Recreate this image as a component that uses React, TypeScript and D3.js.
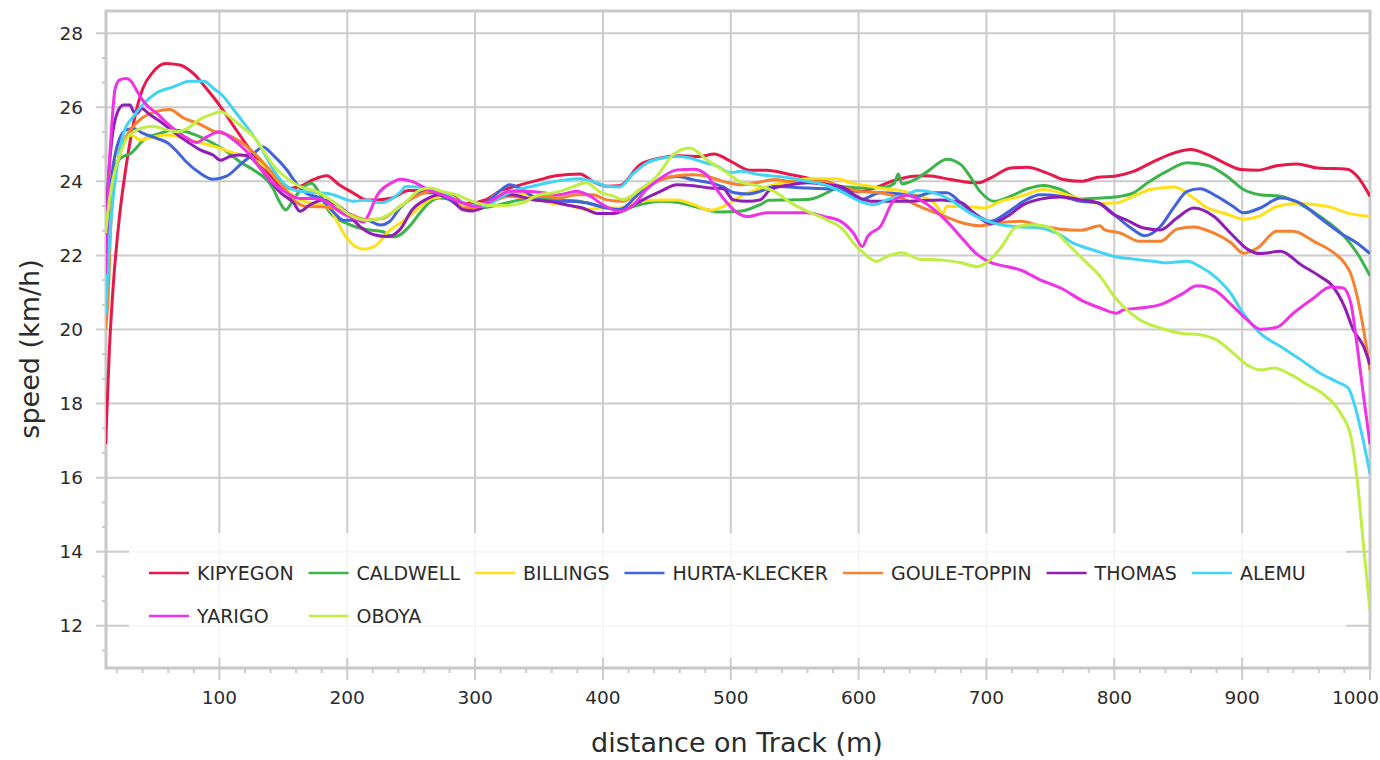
import React from "react";
import * as d3 from "d3";

type Pt = [number, number];

const RUNNERS = ["KIPYEGON", "CALDWELL", "BILLINGS", "HURTA-KLECKER", "GOULE-TOPPIN", "THOMAS", "ALEMU", "YARIGO", "OBOYA"];
const COLORS = ["#e6194b", "#3cb44b", "#ffe119", "#4363d8", "#f58231", "#911eb4", "#42d4f4", "#f032e6", "#bfef45"];

const KIPYEGON: Pt[] = [[11,16.9],[14,19.5],[17,21.2],[22,23.1],[27,24.4],[33,25.6],[40,26.5],[48,26.95],[58,27.18],[69,27.14],[80,26.9],[90,26.5],[100,26.06],[111,25.5],[121,25.0],[132,24.5],[142,24.08],[152,23.8],[163,23.86],[173,24.04],[184,24.15],[194,23.9],[205,23.68],[215,23.5],[223,23.5],[235,23.55],[248,23.75],[262,23.75],[280,23.65],[293,23.4],[308,23.5],[319,23.73],[332,23.87],[350,24.04],[363,24.15],[382,24.2],[392,24.0],[403,23.87],[413,23.88],[429,24.45],[445,24.63],[460,24.69],[476,24.67],[487,24.74],[500,24.54],[515,24.3],[528,24.3],[547,24.18],[560,24.09],[573,23.96],[586,23.82],[601,23.73],[612,23.82],[630,24.05],[643,24.14],[654,24.15],[672,24.05],[693,23.96],[703,24.09],[719,24.36],[732,24.38],[747,24.23],[760,24.05],[774,24.0],[787,24.11],[800,24.14],[815,24.27],[831,24.54],[847,24.77],[860,24.86],[873,24.72],[886,24.5],[899,24.32],[912,24.3],[927,24.42],[943,24.47],[959,24.36],[982,24.33],[990,24.14],[1000,23.6]];

const CALDWELL: Pt[] = [[11,22.0],[14,23.6],[17,24.3],[22,24.6],[27,24.7],[31,24.76],[35,24.9],[40,25.1],[54,25.3],[64,25.39],[74,25.34],[85,25.2],[95,25.03],[106,24.8],[116,24.53],[127,24.3],[137,24.04],[142,23.81],[147,23.45],[152,23.23],[156,23.4],[163,23.75],[172,23.95],[178,23.7],[186,23.18],[200,22.86],[215,22.7],[228,22.64],[236,22.5],[241,22.55],[249,22.8],[257,23.15],[264,23.42],[272,23.55],[282,23.5],[293,23.33],[303,23.28],[319,23.37],[335,23.5],[350,23.55],[366,23.5],[382,23.46],[397,23.33],[413,23.24],[429,23.37],[445,23.46],[460,23.42],[476,23.28],[492,23.17],[507,23.19],[523,23.37],[530,23.49],[547,23.5],[562,23.52],[575,23.69],[586,23.86],[601,23.82],[620,23.84],[628,23.95],[631,24.2],[634,23.93],[643,24.03],[654,24.27],[669,24.6],[680,24.45],[687,24.14],[695,23.73],[706,23.46],[719,23.6],[732,23.8],[745,23.89],[758,23.78],[774,23.52],[789,23.55],[805,23.6],[815,23.69],[826,23.96],[841,24.27],[857,24.5],[873,24.43],[888,24.14],[901,23.78],[914,23.64],[930,23.6],[946,23.37],[961,23.05],[980,22.51],[990,22.06],[1000,21.45]];

const BILLINGS: Pt[] = [[11,22.5],[14,23.8],[17,24.5],[22,24.9],[27,25.15],[31,25.25],[38,25.12],[48,25.2],[59,25.25],[69,25.2],[79,25.1],[95,24.95],[111,24.77],[127,24.59],[137,24.36],[150,23.86],[163,23.5],[184,23.32],[200,22.45],[206,22.25],[213,22.17],[221,22.24],[234,22.7],[241,22.86],[250,23.1],[259,23.37],[267,23.55],[280,23.6],[293,23.33],[306,23.37],[319,23.69],[332,23.69],[345,23.6],[358,23.42],[371,23.37],[387,23.24],[400,23.28],[413,23.28],[429,23.46],[445,23.5],[458,23.5],[471,23.37],[484,23.22],[497,23.37],[510,23.64],[521,23.78],[541,23.96],[562,24.07],[583,24.07],[594,23.96],[607,23.88],[620,23.8],[633,23.75],[648,23.6],[659,23.42],[666,23.15],[669,23.33],[685,23.32],[698,23.28],[711,23.46],[727,23.6],[745,23.78],[758,23.69],[774,23.52],[789,23.4],[802,23.42],[815,23.6],[828,23.78],[847,23.85],[860,23.6],[873,23.28],[888,23.12],[901,22.98],[914,23.07],[927,23.32],[943,23.4],[967,23.32],[982,23.15],[1000,23.05]];

const HURTA_KLECKER: Pt[] = [[11,22.0],[14,23.5],[17,24.44],[22,25.16],[27,25.39],[33,25.43],[40,25.3],[51,25.16],[59,25.05],[67,24.8],[74,24.53],[85,24.22],[95,24.06],[106,24.15],[116,24.44],[127,24.76],[134,24.93],[142,24.71],[153,24.3],[160,23.95],[168,23.68],[179,23.54],[189,23.18],[197,22.95],[205,22.95],[215,22.95],[226,22.82],[233,22.91],[241,23.27],[250,23.55],[258,23.69],[266,23.69],[280,23.5],[293,23.24],[308,23.42],[319,23.73],[327,23.91],[335,23.82],[345,23.6],[358,23.46],[371,23.46],[387,23.42],[403,23.28],[413,23.24],[429,23.69],[445,24.04],[458,24.13],[471,24.04],[484,23.96],[494,23.85],[502,23.7],[513,23.66],[523,23.73],[534,23.86],[560,23.82],[586,23.78],[601,23.5],[617,23.69],[633,23.66],[646,23.6],[656,23.69],[669,23.69],[680,23.42],[690,23.15],[703,22.92],[716,23.15],[729,23.46],[742,23.64],[758,23.6],[774,23.46],[787,23.42],[800,23.1],[813,22.74],[824,22.53],[836,22.78],[847,23.32],[857,23.73],[867,23.8],[880,23.6],[893,23.32],[901,23.15],[914,23.28],[930,23.55],[946,23.4],[961,23.01],[977,22.6],[990,22.33],[1000,22.05]];

const GOULE_TOPPIN: Pt[] = [[11,20.0],[13,20.9],[15,22.8],[17,23.8],[22,24.7],[27,25.2],[33,25.5],[38,25.67],[51,25.89],[61,25.94],[72,25.71],[85,25.54],[95,25.36],[106,25.26],[116,25.08],[127,24.77],[137,24.4],[148,23.96],[158,23.5],[168,23.32],[184,23.31],[200,23.15],[215,22.96],[228,23.0],[241,23.32],[254,23.6],[267,23.73],[280,23.6],[290,23.28],[301,23.28],[314,23.46],[327,23.6],[340,23.55],[353,23.6],[366,23.55],[379,23.64],[392,23.64],[403,23.5],[416,23.46],[429,23.78],[445,24.04],[458,24.15],[471,24.18],[481,24.14],[494,24.0],[507,23.91],[521,23.97],[534,24.05],[547,24.0],[573,24.0],[586,23.86],[601,23.73],[617,23.69],[633,23.55],[648,23.32],[664,23.1],[680,22.89],[695,22.8],[711,22.89],[727,22.92],[742,22.8],[758,22.71],[774,22.68],[789,22.8],[792,22.7],[805,22.6],[820,22.38],[836,22.38],[849,22.71],[862,22.77],[878,22.6],[891,22.35],[901,22.06],[912,22.2],[927,22.65],[940,22.65],[956,22.38],[972,22.06],[980,21.8],[985,21.5],[990,20.89],[995,19.99],[1000,18.9]];

const THOMAS: Pt[] = [[11,22.5],[13,24.0],[16,25.16],[20,25.84],[25,26.06],[30,26.06],[33,25.88],[36,25.84],[39,25.97],[46,25.79],[54,25.61],[64,25.34],[75,25.07],[85,24.85],[95,24.71],[101,24.57],[108,24.67],[116,24.71],[122,24.7],[130,24.45],[137,24.14],[148,23.69],[158,23.42],[163,23.19],[171,23.37],[181,23.5],[189,23.42],[200,23.15],[210,22.78],[221,22.56],[232,22.51],[241,22.69],[251,23.24],[261,23.5],[272,23.64],[282,23.5],[290,23.24],[298,23.2],[308,23.33],[319,23.6],[329,23.64],[345,23.5],[358,23.46],[371,23.37],[384,23.28],[397,23.13],[408,23.13],[418,23.24],[429,23.46],[445,23.73],[458,23.91],[471,23.88],[484,23.82],[494,23.8],[502,23.5],[513,23.46],[523,23.5],[531,23.78],[547,23.91],[560,23.96],[575,23.91],[586,23.86],[601,23.55],[612,23.46],[638,23.46],[648,23.48],[664,23.5],[680,23.43],[690,23.15],[703,22.86],[716,23.05],[729,23.37],[742,23.52],[758,23.58],[774,23.5],[787,23.42],[800,23.1],[810,22.95],[823,22.74],[836,22.69],[849,23.01],[862,23.28],[878,23.05],[891,22.6],[904,22.17],[914,22.05],[930,22.11],[946,21.75],[961,21.43],[970,21.2],[980,20.62],[987,19.99],[995,19.54],[1000,19.05]];

const ALEMU: Pt[] = [[11,20.4],[14.5,22.6],[17,23.6],[20,24.4],[25,25.3],[33,25.76],[40,26.07],[51,26.39],[64,26.55],[77,26.7],[88,26.7],[95,26.52],[103,26.3],[111,25.94],[121,25.49],[132,24.95],[142,24.32],[153,23.86],[163,23.73],[176,23.7],[189,23.64],[200,23.5],[205,23.46],[215,23.5],[226,23.42],[241,23.69],[246,23.86],[256,23.85],[272,23.73],[285,23.5],[295,23.37],[308,23.33],[319,23.55],[329,23.73],[345,23.87],[358,23.97],[371,24.04],[382,24.07],[392,24.0],[403,23.87],[413,23.85],[424,24.22],[434,24.49],[447,24.63],[458,24.67],[468,24.63],[481,24.49],[487,24.45],[500,24.23],[507,24.27],[523,24.18],[547,24.09],[560,24.0],[573,23.91],[586,23.73],[601,23.46],[612,23.37],[622,23.5],[638,23.64],[646,23.75],[659,23.69],[672,23.5],[685,23.19],[698,22.96],[711,22.83],[727,22.77],[742,22.74],[755,22.6],[768,22.33],[784,22.14],[800,21.97],[815,21.9],[831,21.84],[841,21.8],[857,21.84],[867,21.7],[880,21.39],[891,20.98],[899,20.53],[914,19.9],[930,19.54],[946,19.18],[961,18.82],[974,18.59],[983,18.42],[989,17.83],[994,17.11],[1000,16.1]];

const YARIGO: Pt[] = [[11,21.5],[13,23.8],[16,25.6],[18.4,26.5],[22,26.74],[27,26.78],[31,26.7],[35,26.47],[39,26.24],[43,26.06],[51,25.84],[59,25.57],[67,25.34],[75,25.16],[82,25.05],[90,25.2],[100,25.34],[108,25.2],[116,24.98],[124,24.71],[132,24.35],[142,23.95],[153,23.68],[163,23.54],[174,23.54],[184,23.45],[194,23.18],[205,23.0],[213,22.9],[216,23.05],[223,23.6],[234,23.95],[242,24.06],[252,23.98],[262,23.8],[274,23.64],[287,23.46],[300,23.33],[314,23.5],[327,23.73],[340,23.73],[353,23.69],[366,23.64],[379,23.73],[390,23.6],[400,23.37],[413,23.19],[424,23.37],[434,23.78],[447,24.13],[458,24.31],[471,24.33],[481,24.18],[489,23.78],[497,23.42],[505,23.15],[513,23.05],[528,23.15],[560,23.15],[573,23.05],[586,22.92],[596,22.6],[603,22.24],[607,22.51],[617,22.78],[628,23.5],[638,23.62],[654,23.37],[669,22.92],[682,22.42],[693,22.02],[703,21.81],[716,21.7],[727,21.6],[742,21.34],[758,21.12],[776,20.76],[789,20.58],[802,20.44],[807,20.53],[820,20.58],[836,20.67],[852,20.94],[865,21.18],[878,21.07],[893,20.62],[904,20.26],[914,20.01],[927,20.06],[940,20.44],[956,20.85],[969,21.15],[979,21.12],[985,20.71],[990,19.54],[995,18.19],[1000,16.9]];

const OBOYA: Pt[] = [[11,22.6],[14,23.5],[17,24.1],[22,24.7],[27.5,25.16],[33,25.34],[40,25.45],[48,25.48],[59,25.39],[67,25.34],[75,25.43],[85,25.68],[93,25.8],[101,25.88],[111,25.66],[119,25.43],[127,25.2],[134,24.85],[142,24.44],[153,24.08],[163,23.86],[176,23.72],[189,23.45],[202,23.09],[215,22.95],[226,23.0],[236,23.18],[246,23.45],[257,23.77],[265,23.82],[274,23.73],[285,23.64],[298,23.46],[311,23.35],[324,23.35],[337,23.42],[350,23.64],[363,23.7],[374,23.82],[387,23.96],[397,23.73],[408,23.6],[416,23.51],[429,23.78],[442,24.13],[455,24.72],[468,24.9],[481,24.59],[497,24.23],[507,24.0],[523,23.86],[534,23.73],[547,23.42],[560,23.19],[575,22.96],[588,22.69],[596,22.33],[604,22.06],[614,21.84],[622,21.97],[633,22.07],[648,21.9],[664,21.88],[680,21.8],[693,21.7],[700,21.8],[711,22.2],[724,22.78],[737,22.83],[750,22.74],[763,22.33],[776,21.88],[789,21.43],[800,20.89],[807,20.62],[820,20.26],[836,20.04],[852,19.9],[867,19.86],[880,19.72],[893,19.36],[906,19.0],[914,18.91],[925,18.96],[938,18.78],[951,18.51],[964,18.24],[977,17.74],[985,17.11],[990,15.94],[995,14.14],[1000,12.42]];

const SERIES: Pt[][] = [KIPYEGON, CALDWELL, BILLINGS, HURTA_KLECKER, GOULE_TOPPIN, THOMAS, ALEMU, YARIGO, OBOYA];

const X_TICKS = [100, 200, 300, 400, 500, 600, 700, 800, 900, 1000];
const Y_TICKS = [12, 14, 16, 18, 20, 22, 24, 26, 28];
const X_TITLE = "distance on Track (m)";
const Y_TITLE = "speed (km/h)";

const W = 1380, H = 760;
const L = 106, R = 1370, T = 11, B = 668;
const FONT = "'DejaVu Sans', Verdana, sans-serif";
const GRID = "#cccccc";
const TEXT = "#2b2b2b";
const TICK_SIZE = 18.5;

function measure(text: string, size: number): number {
  const c = document.createElement("canvas").getContext("2d");
  if (!c) return text.length * size * 0.6;
  c.font = `${size}px 'DejaVu Sans'`;
  return c.measureText(text).width;
}

export default function App() {
  const x = d3.scaleLinear().domain([11.3, 1000]).range([L, R]);
  const y = d3.scaleLinear().domain([10.86, 28.6]).range([B, T]);
  const line = d3.line<Pt>().x(d => x(d[0])).y(d => y(d[1])).curve(d3.curveMonotoneX);

  const xMinor = d3.range(20, 1000, 20).filter(v => v % 100 !== 0);
  const yMinor: number[] = [];
  for (let v = 11 + 1 / 3; v < 28.6; v += 2 / 3) {
    const r = Math.round(v * 3) / 3;
    if (Math.abs(r - Math.round(r)) > 0.01 || Math.round(r) % 2 !== 0) yMinor.push(r);
  }

  // legend layout: 7 columns, 2 rows
  const LEG_SIZE = 19;
  const perRow = 7;
  const itemW = RUNNERS.map(n => 40 + 8 + measure(n, LEG_SIZE) + 15);
  const colW: number[] = [];
  for (let c = 0; c < perRow; c++) {
    let m = 0;
    for (let i = c; i < RUNNERS.length; i += perRow) m = Math.max(m, itemW[i]);
    colW.push(m);
  }
  const colX: number[] = [];
  let acc = 149;
  for (let c = 0; c < perRow; c++) { colX.push(acc); acc += colW[c]; }

  const xLabelPos = (t: number) => {
    const half = measure(String(t), TICK_SIZE) / 2;
    return Math.min(x(t), W - half - 1);
  };

  return (
    <svg width={W} height={H} style={{ position: "absolute", left: 0, top: 0, background: "#fff" }} fontFamily={FONT}>
      <defs>
        <clipPath id="plot"><rect x={L} y={T} width={R - L} height={B - T} /></clipPath>
      </defs>
      {/* grid */}
      {X_TICKS.map(t => (
        <line key={"gx" + t} x1={x(t)} x2={x(t)} y1={T} y2={B + 12} stroke={GRID} strokeWidth={2} />
      ))}
      {Y_TICKS.map(t => (
        <line key={"gy" + t} x1={L - 10} x2={R} y1={y(t)} y2={y(t)} stroke={GRID} strokeWidth={2} />
      ))}
      {xMinor.map(t => (
        <line key={"mx" + t} x1={x(t)} x2={x(t)} y1={B} y2={B + 5} stroke={GRID} strokeWidth={2} />
      ))}
      {yMinor.map(t => (
        <line key={"my" + t} x1={L - 4} x2={L} y1={y(t)} y2={y(t)} stroke={GRID} strokeWidth={2} />
      ))}
      {/* frame */}
      <rect x={L} y={T} width={R - L} height={B - T} fill="none" stroke="#c8c8c8" strokeWidth={3} />

      {/* series */}
      <g clipPath="url(#plot)">
        {SERIES.map((s, i) => (
          <path key={RUNNERS[i]} d={line(s) || ""} fill="none" stroke={COLORS[i]} strokeWidth={3} strokeLinejoin="round" />
        ))}
      </g>

      {/* legend */}
      <rect x={129} y={533} width={1217} height={125} fill="#ffffff" fillOpacity={0.82} />
      {RUNNERS.map((n, i) => {
        const c = i % perRow, r = Math.floor(i / perRow);
        const lx = colX[c], ly = 573 + r * 43;
        return (
          <g key={"lg" + n}>
            <line x1={lx} x2={lx + 40} y1={ly} y2={ly} stroke={COLORS[i]} strokeWidth={2.5} />
            <text x={lx + 48} y={ly} dy="0.36em" fontSize={LEG_SIZE} fill={TEXT}>{n}</text>
          </g>
        );
      })}

      {/* tick labels */}
      {X_TICKS.map(t => (
        <text key={"lx" + t} x={xLabelPos(t)} y={704} textAnchor="middle" fontSize={TICK_SIZE} fill={TEXT}>{t}</text>
      ))}
      {Y_TICKS.map(t => (
        <text key={"ly" + t} x={83} y={y(t)} dy="0.36em" textAnchor="end" fontSize={TICK_SIZE} fill={TEXT}>{t}</text>
      ))}

      {/* titles */}
      <text x={737} y={752} textAnchor="middle" fontSize={27} fill={TEXT}>{X_TITLE}</text>
      <text transform={`translate(39,349) rotate(-90)`} textAnchor="middle" fontSize={27} fill={TEXT}>{Y_TITLE}</text>
    </svg>
  );
}
